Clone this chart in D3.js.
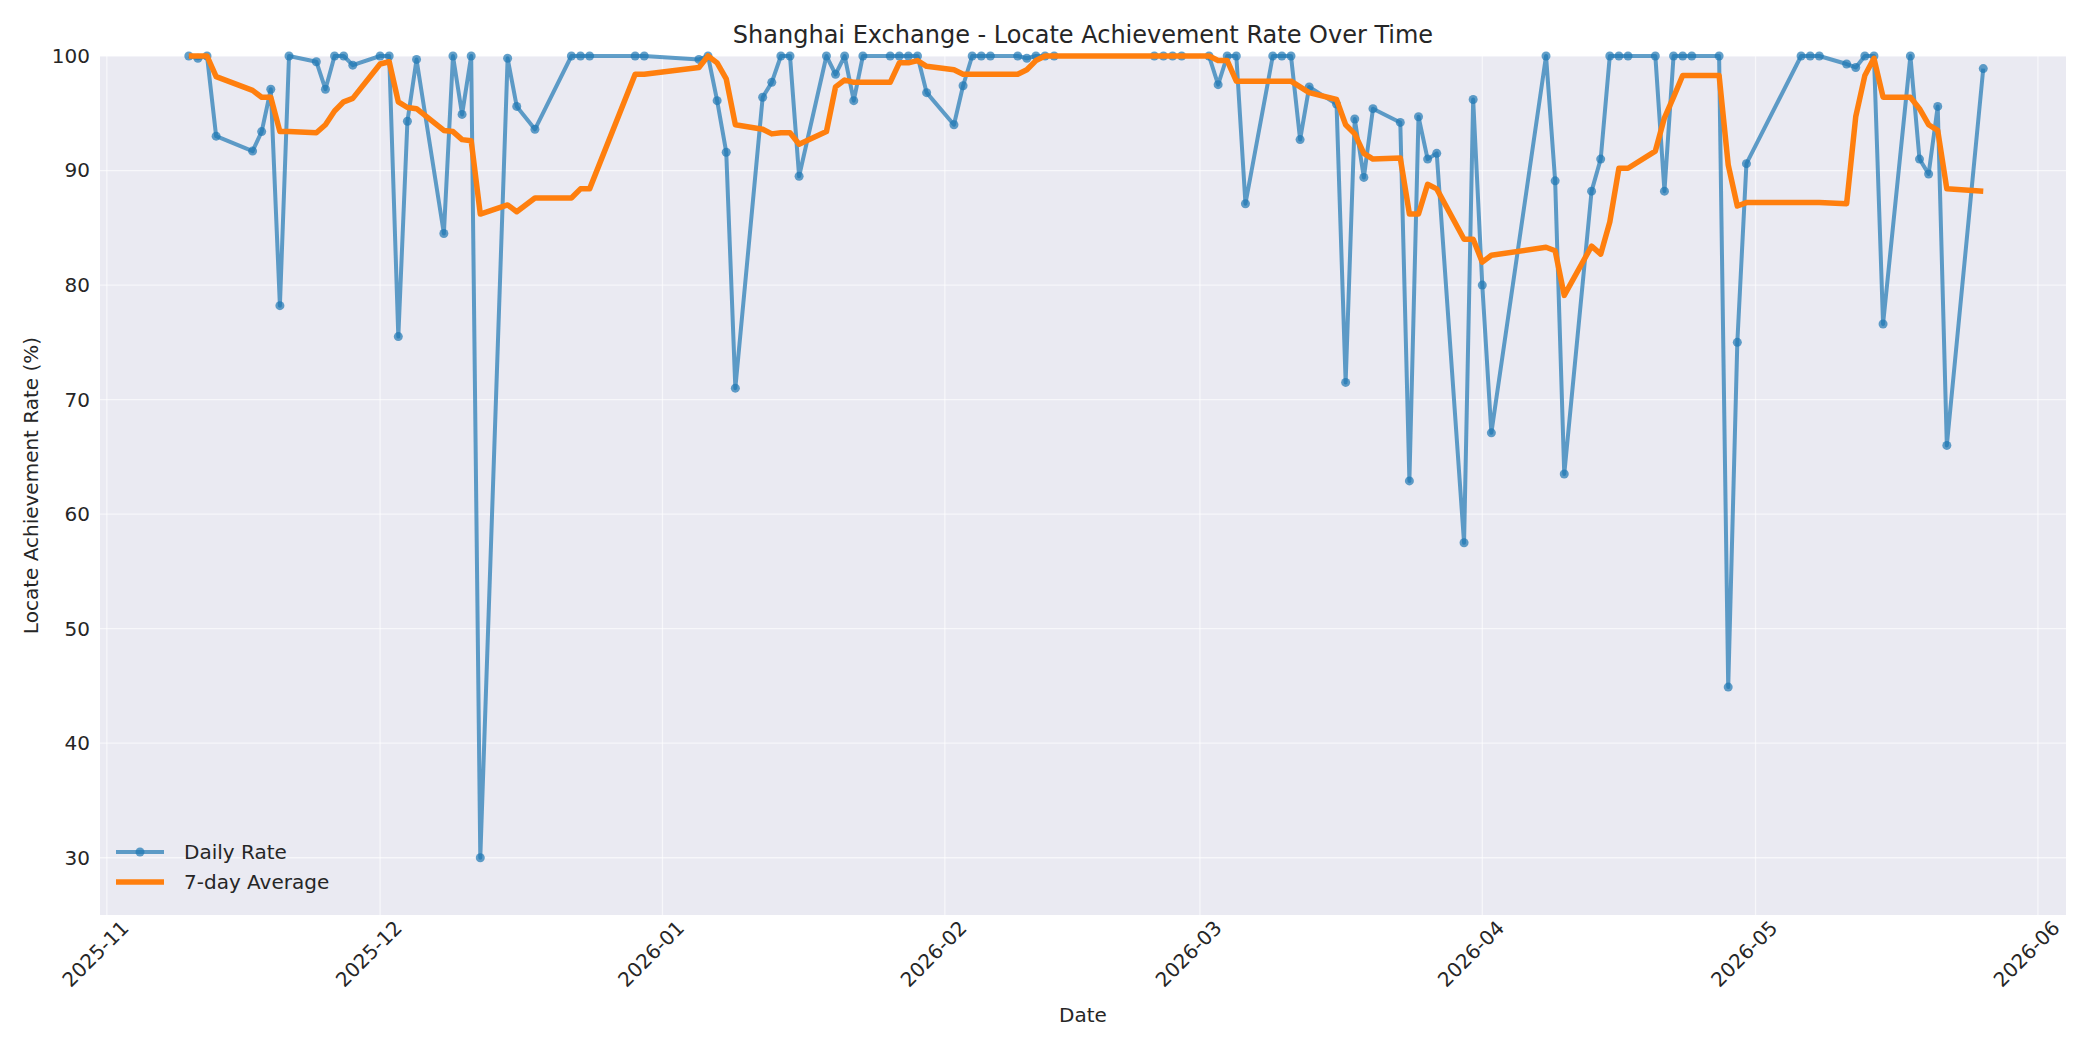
<!DOCTYPE html>
<html>
<head>
<meta charset="utf-8">
<script src="https://cdn.jsdelivr.net/npm/d3@7"></script>
<style>
  body { margin: 0; background: #fff; }
  text { font-family: 'DejaVu Sans', sans-serif; }
</style>
</head>
<body>
<div id="chart"></div>
<script>
const dates = [
  '2025-11-10', '2025-11-11', '2025-11-12', '2025-11-13', '2025-11-17', '2025-11-18', '2025-11-19', '2025-11-20', '2025-11-21',
  '2025-11-24', '2025-11-25', '2025-11-26', '2025-11-27', '2025-11-28',
  '2025-12-01', '2025-12-02', '2025-12-03', '2025-12-04', '2025-12-05',
  '2025-12-08', '2025-12-09', '2025-12-10', '2025-12-11', '2025-12-12',
  '2025-12-15', '2025-12-16', '2025-12-18', '2025-12-22', '2025-12-23', '2025-12-24', '2025-12-29', '2025-12-30',
  '2026-01-05', '2026-01-06', '2026-01-07', '2026-01-08', '2026-01-09',
  '2026-01-12', '2026-01-13', '2026-01-14', '2026-01-15', '2026-01-16',
  '2026-01-19', '2026-01-20', '2026-01-21', '2026-01-22', '2026-01-23',
  '2026-01-26', '2026-01-27', '2026-01-28', '2026-01-29', '2026-01-30',
  '2026-02-02', '2026-02-03', '2026-02-04', '2026-02-05', '2026-02-06',
  '2026-02-09', '2026-02-10', '2026-02-11', '2026-02-12', '2026-02-13',
  '2026-02-24', '2026-02-25', '2026-02-26', '2026-02-27',
  '2026-03-02', '2026-03-03', '2026-03-04', '2026-03-05', '2026-03-06',
  '2026-03-09', '2026-03-10', '2026-03-11', '2026-03-12', '2026-03-13',
  '2026-03-16', '2026-03-17', '2026-03-18', '2026-03-19', '2026-03-20',
  '2026-03-23', '2026-03-24', '2026-03-25', '2026-03-26', '2026-03-27',
  '2026-03-30', '2026-03-31', '2026-04-01', '2026-04-02',
  '2026-04-08', '2026-04-09', '2026-04-10',
  '2026-04-13', '2026-04-14', '2026-04-15', '2026-04-16', '2026-04-17',
  '2026-04-20', '2026-04-21', '2026-04-22', '2026-04-23', '2026-04-24',
  '2026-04-27', '2026-04-28', '2026-04-29', '2026-04-30',
  '2026-05-06', '2026-05-07', '2026-05-08',
  '2026-05-11', '2026-05-12', '2026-05-13', '2026-05-14', '2026-05-15',
  '2026-05-18', '2026-05-19', '2026-05-20', '2026-05-21', '2026-05-22',
  '2026-05-26'
]

const dailyRate = [
  100, 99.8, 100, 93, 91.7, 93.4, 97.1, 78.2, 100,
  99.5, 97.1, 100, 100, 99.2,
  100, 100, 75.5, 94.3, 99.7,
  84.5, 100, 94.9, 100, 30,
  99.8, 95.6, 93.6, 100, 100, 100, 100, 100,
  99.7, 100, 96.1, 91.6, 71,
  96.4, 97.7, 100, 100, 89.5,
  100, 98.4, 100, 96.1, 100,
  100, 100, 100, 100, 96.8,
  94, 97.4, 100, 100, 100,
  100, 99.8, 100, 100, 100,
  100, 100, 100, 100,
  100, 97.5, 100, 100, 87.1,
  100, 100, 100, 92.7, 97.3,
  95.8, 71.5, 94.5, 89.4, 95.4,
  94.2, 62.9, 94.7, 91, 91.5,
  57.5, 96.2, 80, 67.1,
  100, 89.1, 63.5,
  88.2, 91, 100, 100, 100,
  100, 88.2, 100, 100, 100,
  100, 44.9, 75, 90.6,
  100, 100, 100,
  99.3, 99, 100, 100, 76.6,
  100, 91, 89.7, 95.6, 66,
  98.9
]

const weeklyAvg = [
  100, 100, 100, 98.2, 97, 96.4, 96.4, 93.4, 93.4,
  93.3, 94, 95.2, 96, 96.3,
  99.3, 99.5, 96, 95.5, 95.4,
  93.5, 93.4, 92.7, 92.6, 86.2,
  87, 86.4, 87.6, 87.6, 88.4, 88.4, 98.4, 98.4,
  99, 100, 99.4, 98, 94,
  93.6, 93.2, 93.3, 93.3, 92.3,
  93.4, 97.3, 97.9, 97.7, 97.7,
  97.7, 99.4, 99.4, 99.6, 99.1,
  98.8, 98.4, 98.4, 98.4, 98.4,
  98.4, 98.8, 99.6, 100, 100,
  100, 100, 100, 100,
  100, 99.6, 99.6, 97.8, 97.8,
  97.8, 97.8, 97.8, 97.3, 96.8,
  96.2, 94, 93.2, 91.5, 91,
  91.1, 86.2, 86.2, 88.8, 88.4,
  84, 84, 82, 82.6,
  83.3, 83, 79.1,
  83.4, 82.7, 85.5, 90.2, 90.2,
  91.7, 94.6, 96.4, 98.3, 98.3,
  98.3, 90.5, 86.9, 87.2,
  87.2, 87.2, 87.2,
  87.1, 94.7, 98.3, 99.8, 96.4,
  96.4, 95.4, 94, 93.5, 88.4,
  88.2
]

const yTicks = [30, 40, 50, 60, 70, 80, 90, 100]
const xTicks = ['2025-11-01', '2025-12-01', '2026-01-01', '2026-02-01', '2026-03-01', '2026-04-01', '2026-05-01', '2026-06-01']

const W = 2100
const H = 1050
const margin = { top: 56, left: 100, right: 34, bottom: 135 }
const width = W - margin.left - margin.right
const height = H - margin.top - margin.bottom

const parseTime = d3.timeParse('%Y-%m-%d')
const points = dates.map((d, i) => ({ date: parseTime(d), rate: dailyRate[i], avg: weeklyAvg[i] }))

const svg = d3
  .select('#chart')
  .append('svg')
  .attr('width', W)
  .attr('height', H)

const g = svg.append('g').attr('transform', 'translate(' + margin.left + ',' + margin.top + ')')

const x = d3
  .scaleTime()
  .domain([new Date(2025, 9, 31, 6), new Date(2026, 5, 4, 2)])
  .range([0, width])
const y = d3.scaleLinear().domain([25, 100]).range([height, 0])

g.append('rect').attr('width', width).attr('height', height).attr('fill', '#eaeaf2')

// grid
g.append('g')
  .selectAll('line')
  .data(yTicks)
  .enter()
  .append('line')
  .attr('x1', 0)
  .attr('x2', width)
  .attr('y1', d => y(d))
  .attr('y2', d => y(d))
  .attr('stroke', '#fff')
  .attr('stroke-opacity', 0.6)
  .attr('stroke-width', 1.3)
g.append('g')
  .selectAll('line')
  .data(xTicks.map(parseTime))
  .enter()
  .append('line')
  .attr('x1', d => x(d))
  .attr('x2', d => x(d))
  .attr('y1', 0)
  .attr('y2', height)
  .attr('stroke', '#fff')
  .attr('stroke-opacity', 0.6)
  .attr('stroke-width', 1.3)

const clip = g.append('clipPath').attr('id', 'clip')
clip.append('rect').attr('x', 0).attr('y', -6).attr('width', width).attr('height', height + 6)

const plot = g.append('g').attr('clip-path', 'url(#clip)')

const lineRate = d3.line().x(d => x(d.date)).y(d => y(d.rate))
const lineAvg = d3.line().x(d => x(d.date)).y(d => y(d.avg))

plot.append('path')
  .datum(points)
  .attr('d', lineRate)
  .attr('fill', 'none')
  .attr('stroke', '#1f77b4')
  .attr('stroke-opacity', 0.7)
  .attr('stroke-width', 4)
  .attr('stroke-linejoin', 'round')

plot.selectAll('circle')
  .data(points)
  .enter()
  .append('circle')
  .attr('cx', d => x(d.date))
  .attr('cy', d => y(d.rate))
  .attr('r', 4.5)
  .attr('fill', '#1f77b4')
  .attr('fill-opacity', 0.7)

plot.append('path')
  .datum(points)
  .attr('d', lineAvg)
  .attr('fill', 'none')
  .attr('stroke', '#ff7f0e')
  .attr('stroke-width', 5.5)
  .attr('stroke-linejoin', 'round')

// axes
const xAxis = d3.axisBottom(x).tickValues(xTicks.map(parseTime)).tickFormat(d3.timeFormat('%Y-%m')).tickSize(0).tickPadding(8)
const xg = g.append('g').attr('transform', 'translate(0,' + height + ')').call(xAxis)
xg.select('.domain').remove()
xg.selectAll('text')
  .attr('font-size', 20)
  .attr('fill', '#262626')
  .attr('text-anchor', 'end')
  .attr('dx', '0.3em')
  .attr('dy', '0.9em')
  .attr('transform', 'rotate(-45)')

const yAxis = d3.axisLeft(y).tickValues(yTicks).tickSize(0).tickPadding(10)
const yg = g.append('g').call(yAxis)
yg.select('.domain').remove()
yg.selectAll('text').attr('font-size', 20).attr('fill', '#262626')

svg.append('text')
  .text('Shanghai Exchange - Locate Achievement Rate Over Time')
  .attr('x', margin.left + width / 2)
  .attr('y', 43)
  .attr('text-anchor', 'middle')
  .attr('font-size', 24)
  .attr('fill', '#262626')

svg.append('text')
  .text('Date')
  .attr('x', margin.left + width / 2)
  .attr('y', 1022)
  .attr('text-anchor', 'middle')
  .attr('font-size', 20)
  .attr('fill', '#262626')

svg.append('text')
  .text('Locate Achievement Rate (%)')
  .attr('transform', 'translate(38,' + (margin.top + height / 2) + ') rotate(-90)')
  .attr('text-anchor', 'middle')
  .attr('font-size', 20)
  .attr('fill', '#262626')

// legend
const legend = g.append('g').attr('transform', 'translate(16,' + (height - 63) + ')')
legend.append('line').attr('x1', 0).attr('x2', 48).attr('y1', 0).attr('y2', 0)
  .attr('stroke', '#1f77b4').attr('stroke-opacity', 0.7).attr('stroke-width', 4)
legend.append('circle').attr('cx', 24).attr('cy', 0).attr('r', 4.5).attr('fill', '#1f77b4').attr('fill-opacity', 0.7)
legend.append('text').text('Daily Rate').attr('x', 68).attr('y', 7).attr('font-size', 20).attr('fill', '#262626')
legend.append('line').attr('x1', 0).attr('x2', 48).attr('y1', 30).attr('y2', 30)
  .attr('stroke', '#ff7f0e').attr('stroke-width', 5.5)
legend.append('text').text('7-day Average').attr('x', 68).attr('y', 37).attr('font-size', 20).attr('fill', '#262626')
</script>
</body>
</html>
